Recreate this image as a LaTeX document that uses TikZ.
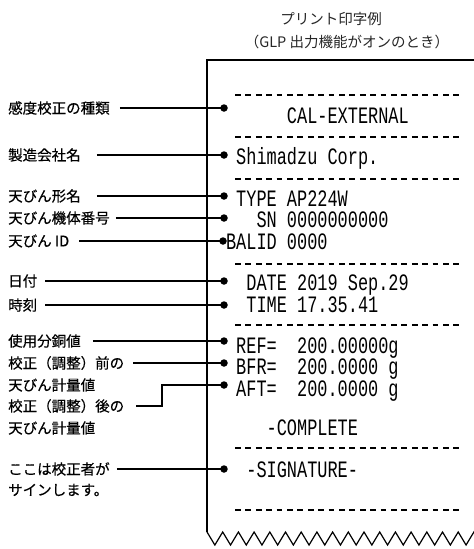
\documentclass[tikz,border=0pt]{standalone}
\usepackage{fontspec}
\newfontfamily\jp[FakeBold=0.4]{Noto Sans CJK JP}
\newfontfamily\jpt{Noto Sans CJK JP}
\newfontfamily\prt[FakeStretch=0.72]{Liberation Mono}
\newcommand\blank{\hphantom{0}}
\begin{document}
\begin{tikzpicture}[x=1pt,y=-1pt,
  lbl/.style={font=\jp\fontsize{14.5}{17}\selectfont, inner sep=0, anchor=west},
  ttl/.style={font=\jpt\fontsize{14.5}{17}\selectfont, inner sep=0, text=black!85},
  prn/.style={font=\prt\fontsize{23.5}{24}\selectfont, inner sep=0, anchor=base west,
    text height=15.5pt, text depth=3.5pt},
  leader/.style={line width=2.5pt, line join=miter},
  dotmark/.style={circle, fill=black, inner sep=0, minimum size=7.5pt},
  paperline/.style={line width=1.2pt, line join=miter},
  dashrule/.style={line width=1.2pt, dash pattern=on 5.8pt off 4.6pt}
]
\useasboundingbox (0,0) rectangle (474,549);
\clip (0,0) rectangle (474,549);

% title
\node[ttl] (t1) at (331,19) {プリント印字例};
\node[ttl] (t2) at (347,42) {（GLP 出力機能がオンのとき）};

% paper
\draw[paperline] (207,532) -- (207,60) -- (474,60);
\draw[paperline] (207,532) \foreach \i in {1,...,36} { -- ({207+7.85*\i},{532+13*mod(\i,2)}) };

% dashed rules
\foreach \y in {95,137,179,264,325,448,510}
  \draw[dashrule] (235,\y) -- (459,\y);

% printed lines
\node[prn] (p1)  at (286.75,123.5) {CAL-EXTERNAL};
\node[prn] (p2)  at (236,164.5) {Shimadzu\blank Corp.};
\node[prn] (p3)  at (236,206.5) {TYPE\blank AP224W};
\node[prn] (p4)  at (256.3,227.5) {SN\blank 0000000000};
\node[prn] (p5)  at (225.85,249.5) {BALID\blank 0000};
\node[prn] (p6)  at (246.15,290.5) {DATE\blank 2019\blank Sep.29};
\node[prn] (p7)  at (246.15,312.5) {TIME\blank 17.35.41};
\node[prn] (p8)  at (236,353.5) {REF=\blank\blank 200.00000g};
\node[prn] (p9)  at (236,374.5) {BFR=\blank\blank 200.0000\blank g};
\node[prn] (p10) at (236,396.5) {AFT=\blank\blank 200.0000\blank g};
\node[prn] (p11) at (266.45,435.5) {-COMPLETE};
\node[prn] (p12) at (246.15,477.5) {-SIGNATURE-};

% labels
\node[lbl] (l1)  at (8,108) {感度校正の種類};
\node[lbl] (l2)  at (8,155) {製造会社名};
\node[lbl] (l3)  at (8,196) {天びん形名};
\node[lbl] (l4)  at (8,218) {天びん機体番号};
\node[lbl] (l5)  at (8,241) {天びん ID};
\node[lbl] (l6)  at (8,281) {日付};
\node[lbl] (l7)  at (8,305) {時刻};
\node[lbl] (l8)  at (8,341) {使用分銅値};
\node[lbl] (l9a) at (8,363) {校正（調整）前の};
\node[lbl] (l9b) at (8,385) {天びん計量値};
\node[lbl] (l10a) at (8,406) {校正（調整）後の};
\node[lbl] (l10b) at (8,428) {天びん計量値};
\node[lbl] (l11a) at (8,469) {ここは校正者が};
\node[lbl] (l11b) at (8,490) {サインします。};

% dots
\node[dotmark] (d1)  at (224,108) {};
\node[dotmark] (d2)  at (224,155) {};
\node[dotmark] (d3)  at (224,196) {};
\node[dotmark] (d4)  at (224,218) {};
\node[dotmark] (d5)  at (223,241) {};
\node[dotmark] (d6)  at (224,281) {};
\node[dotmark] (d7)  at (224,305) {};
\node[dotmark] (d8)  at (224,341) {};
\node[dotmark] (d9)  at (224,363) {};
\node[dotmark] (d10) at (224,385) {};
\node[dotmark] (d11) at (224,469) {};
\coordinate (bend) at (162,385);

% leaders
\draw[leader] ([xshift=10pt]l1.east) -- (d1.center);
\draw[leader] ([xshift=16pt]l2.east) -- (d2.center);
\draw[leader] ([xshift=16pt]l3.east) -- (d3.center);
\draw[leader] ([xshift=6pt]l4.east) -- (d4.center);
\draw[leader] ([xshift=10pt]l5.east) -- (d5.center);
\draw[leader] ([xshift=8pt]l6.east) -- (d6.center);
\draw[leader] ([xshift=8pt]l7.east) -- (d7.center);
\draw[leader] ([xshift=12pt]l8.east) -- (d8.center);
\draw[leader] ([xshift=9pt]l9a.east) -- (d9.center);
\draw[leader] ([xshift=12pt]l10a.east) -| (bend) -- (d10.center);
\draw[leader] ([xshift=7pt]l11a.east) -- (d11.center);
\end{tikzpicture}
\end{document}
